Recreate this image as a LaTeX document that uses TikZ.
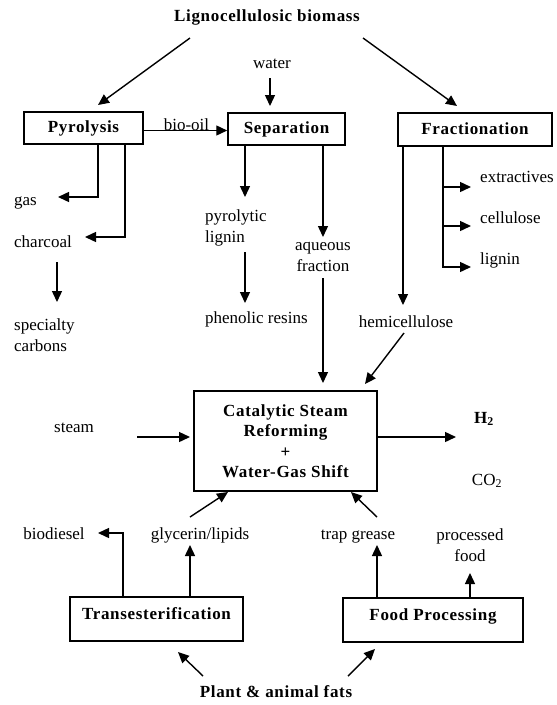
\documentclass[tikz,border=0pt]{standalone}
\usepackage{fontspec}
\setmainfont{Liberation Serif}
\newfontfamily\spacedfont{Liberation Serif}[LetterSpace=4]
\usetikzlibrary{arrows.meta,calc}
\begin{document}
\begin{tikzpicture}[x=1pt,y=-1pt,
  txt/.style={font=\fontsize{17}{21}\selectfont, inner sep=0pt},
  bld/.style={font=\spacedfont\bfseries\fontsize{17}{20.5}\selectfont, inner sep=0pt},
  procbox/.style={draw, line width=1.5pt, bld, align=center},
  arr/.style={line width=1.4pt, -{Triangle[length=11pt,width=10pt]}}]
\useasboundingbox (0,0) rectangle (557,705);
% boxes
\node[procbox, minimum width=119pt, minimum height=32pt, text height=12pt, text depth=3pt] (pyro) at (83.5,128) {Pyrolysis};
\node[procbox, minimum width=117pt, minimum height=32pt, text height=12pt, text depth=3pt] (sep) at (286.5,129) {Separation};
\node[procbox, minimum width=154pt, minimum height=33pt, text height=12pt, text depth=3pt] (frac) at (475,129.5) {Fractionation};
\node[procbox, minimum width=183pt, minimum height=100pt] (csr) at (285.5,441) {Catalytic Steam\\Reforming\\+\\Water-Gas Shift};
\node[procbox, minimum width=173pt, minimum height=44pt, text height=12pt, text depth=12pt] (trans) at (156.5,619) {Transesterification};
\node[procbox, minimum width=180pt, minimum height=44pt, text height=12pt, text depth=12pt] (food) at (433,620) {Food Processing};
% labels
\node[bld, anchor=base] (title) at (267,21) {Lignocellulosic biomass};
\node[txt, anchor=base] (water) at (272,68) {water};
\node[txt, anchor=base] (biooil) at (186.5,130) {bio-oil};
\node[txt, anchor=base west] (gas) at (14,205) {gas};
\node[txt, anchor=base west] (charcoal) at (14,247) {charcoal};
\node[txt, align=left, anchor=west] (spec) at (14,335) {specialty\\carbons};
\node[txt, align=left, anchor=west] (pyrlig) at (205,228) {pyrolytic\\lignin};
\node[txt, anchor=base west] (phen) at (205,323) {phenolic resins};
\node[txt, align=center] (aq) at (323,257) {aqueous\\fraction};
\node[txt, anchor=base] (hemi) at (406,327) {hemicellulose};
\node[txt, anchor=base west] (extr) at (480,182) {extractives};
\node[txt, anchor=base west] (cell) at (480,223) {cellulose};
\node[txt, anchor=base west] (lig) at (480,264) {lignin};
\node[txt, anchor=base] (steam) at (74,432) {steam};
\node[bld, anchor=base] (h2) at (484,423) {H\textsubscript{2}};
\node[txt, anchor=base] (co2) at (487,485) {CO\textsubscript{2}};
\node[txt, anchor=base] (biod) at (54,539) {biodiesel};
\node[txt, anchor=base] (glyc) at (200,539) {glycerin/lipids};
\node[txt, anchor=base] (trap) at (358,539) {trap grease};
\node[txt, align=center] (proc) at (470,545) {processed\\food};
\node[bld, anchor=base] (fats) at (276,697) {Plant \& animal fats};
% coordinates
\coordinate (tl) at (190,38);   \coordinate (pyroIn) at (98,105);
\coordinate (tr) at (363,38);   \coordinate (fracIn) at (457,106);
\coordinate (wA) at (270,78);   \coordinate (wB) at (270,106);
\coordinate (gasE) at (58,197); \coordinate (charE) at (85,237);
\coordinate (chA) at (57,262);  \coordinate (chB) at (57,302);
\coordinate (s1E) at (245,197); \coordinate (plA) at (245,252); \coordinate (plB) at (245,303);
\coordinate (s2E) at (323,237); \coordinate (aqA) at (323,278); \coordinate (csrIn1) at (323,383);
\coordinate (f1E) at (403,305); \coordinate (hmA) at (404,333); \coordinate (csrIn2) at (365,384);
\coordinate (brx) at (443,0);
\coordinate (brE) at (471,187); \coordinate (brC) at (471,226); \coordinate (brL) at (471,267);
\coordinate (stA) at (137,437); \coordinate (stB) at (190,437); \coordinate (outE) at (456,437);
\coordinate (glA) at (190,517); \coordinate (glB) at (228,492);
\coordinate (trA) at (377,517); \coordinate (trB) at (351,492);
\coordinate (bdE) at (98,533);  \coordinate (glE) at (190,545);
\coordinate (tgE) at (377,545); \coordinate (pfE) at (470,573);
\coordinate (faA) at (203,676); \coordinate (faB) at (178,652);
\coordinate (fbA) at (348,676); \coordinate (fbB) at (375,649);
% connectors
\draw[arr] (tl) -- (pyroIn);
\draw[arr] (tr) -- (fracIn);
\draw[arr] (wA) -- (wB);
\draw[arr] ($(pyro.east)+(0,2.5)$) -- ($(sep.west)+(0,1.5)$);
\draw[arr] ($(pyro.south)+(14.5,0)$) |- (gasE);
\draw[arr] ($(pyro.south)+(41.5,0)$) |- (charE);
\draw[arr] (chA) -- (chB);
\draw[arr] ($(sep.south)+(-41.5,0)$) -- (s1E);
\draw[arr] (plA) -- (plB);
\draw[arr] ($(sep.south)+(36.5,0)$) -- (s2E);
\draw[arr] (aqA) -- (csrIn1);
\draw[arr] ($(frac.south)+(-72,0)$) -- (f1E);
\draw[arr] (hmA) -- (csrIn2);
\draw[arr] ($(frac.south)+(-32,0)$) |- (brL);
\draw[arr] (brE -| brx) -- (brE);
\draw[arr] (brC -| brx) -- (brC);
\draw[arr] (stA) -- (stB);
\draw[arr] (csr.east |- outE) -- (outE);
\draw[arr] (glA) -- (glB);
\draw[arr] (trA) -- (trB);
\draw[arr] ($(trans.north)+(-33.5,0)$) |- (bdE);
\draw[arr] ($(trans.north)+(33.5,0)$) -- (glE);
\draw[arr] ($(food.north)+(-56,0)$) -- (tgE);
\draw[arr] ($(food.north)+(37,0)$) -- (pfE);
\draw[arr] (faA) -- (faB);
\draw[arr] (fbA) -- (fbB);
\end{tikzpicture}
\end{document}
